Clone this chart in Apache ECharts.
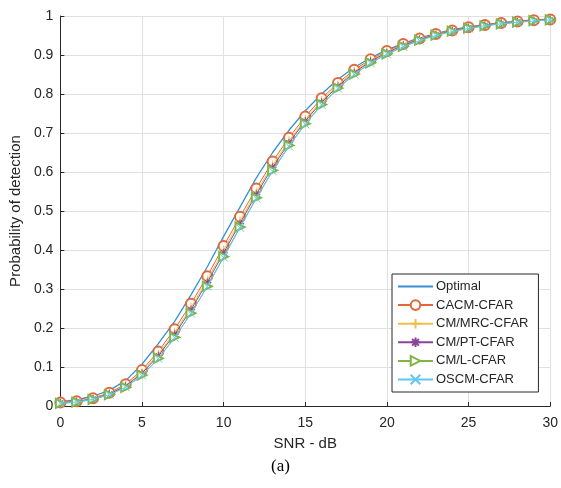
<!DOCTYPE html>
<html>
<head>
<meta charset="utf-8">
<script src="https://cdn.jsdelivr.net/npm/echarts@6/dist/echarts.min.js"></script>
<style>
html,body{margin:0;padding:0;background:#fff;}
#c{width:561px;height:488px;}
</style>
</head>
<body>
<div id="c"></div>
<script>
const snr = [0,1,2,3,4,5,6,7,8,9,10,11,12,13,14,15,16,17,18,19,20,21,22,23,24,25,26,27,28,29,30];
const yTicks = [0,0.1,0.2,0.3,0.4,0.5,0.6,0.7,0.8,0.9,1];
const seriesNames = ['Optimal','CACM-CFAR','CM/MRC-CFAR','CM/PT-CFAR','CM/L-CFAR','OSCM-CFAR'];
const optimal = [0.011,0.016,0.025,0.040,0.065,0.107,0.160,0.217,0.285,0.357,0.435,0.510,0.585,0.650,0.707,0.757,0.800,0.838,0.868,0.893,0.913,0.930,0.944,0.955,0.965,0.972,0.978,0.983,0.987,0.990,0.992];
const cacm = [0.009,0.012,0.020,0.034,0.056,0.092,0.140,0.197,0.262,0.333,0.410,0.485,0.558,0.627,0.688,0.742,0.789,0.828,0.862,0.889,0.910,0.928,0.942,0.954,0.963,0.971,0.977,0.982,0.986,0.989,0.991];
const cmMrc = [0.008,0.011,0.019,0.032,0.053,0.087,0.133,0.189,0.253,0.323,0.400,0.475,0.549,0.618,0.680,0.735,0.783,0.823,0.858,0.886,0.908,0.926,0.941,0.953,0.962,0.970,0.976,0.981,0.985,0.988,0.991];
const cmPt = [0.008,0.011,0.018,0.031,0.051,0.084,0.129,0.184,0.247,0.317,0.393,0.468,0.543,0.612,0.675,0.731,0.779,0.820,0.855,0.884,0.906,0.925,0.940,0.952,0.962,0.970,0.976,0.981,0.985,0.988,0.991];
const cmL = [0.007,0.010,0.017,0.029,0.048,0.079,0.122,0.176,0.238,0.307,0.383,0.459,0.534,0.604,0.668,0.724,0.773,0.815,0.851,0.880,0.903,0.922,0.938,0.951,0.961,0.969,0.975,0.980,0.984,0.988,0.990];
const oscm = [0.007,0.010,0.017,0.029,0.048,0.078,0.121,0.175,0.237,0.306,0.381,0.457,0.532,0.602,0.666,0.722,0.772,0.814,0.850,0.879,0.902,0.921,0.937,0.950,0.960,0.968,0.975,0.980,0.984,0.987,0.990];

const colors = ['#3a8fd3','#e0683a','#f0bf4a','#8a459a','#80b545','#63c6ef'];
const symbols = ['none','emptyCircle','path://M5,0L5,10M0,5L10,5','path://M5,0L5,10M0,5L10,5M1.5,1.5L8.5,8.5M8.5,1.5L1.5,8.5','emptyTriangle','path://M0,0L10,10M10,0L0,10'];
const rotations = [0,0,0,0,-90,0];
const sizes = [0,10,9,8,9,8];
const allData = [optimal,cacm,cmMrc,cmPt,cmL,oscm];

const chart = echarts.init(document.getElementById('c'), null, {renderer:'canvas'});
const font = 'Liberation Sans, Arial, sans-serif';
const series = allData.map((d,i)=>({
  name: seriesNames[i],
  type: 'line',
  data: d.map((v,j)=>[snr[j], v]),
  symbol: symbols[i],
  symbolRotate: rotations[i],
  showSymbol: i>0,
  symbolSize: sizes[i],
  z: 2+i,
  color: colors[i],
  lineStyle: {color: colors[i], width: i===0 ? 1.3 : 1, type: 'solid'},
  itemStyle: {color: colors[i], borderColor: colors[i], borderWidth: 1},
  emphasis: {disabled: true},
  animation: false
}));

const legendData = seriesNames.map((n,i)=> i===0 ? {name:n, itemStyle:{opacity:0}} : {name:n});

chart.setOption({
  animation: false,
  backgroundColor: '#fff',
  grid: {left: 58, right: 9, top: 16, bottom: 82, containLabel: false},
  xAxis: {
    type: 'value', min: 0, max: 30, interval: 5,
    name: 'SNR - dB', nameLocation: 'middle', nameGap: 30,
    nameTextStyle: {fontFamily: font, fontSize: 15, color: '#262626'},
    axisLine: {lineStyle: {color: '#262626', width: 1}},
    axisTick: {inside: true, length: 4, lineStyle: {color: '#262626'}},
    axisLabel: {fontFamily: font, fontSize: 14, color: '#262626', margin: 10},
    splitLine: {show: true, lineStyle: {color: '#e0e0e0', width: 1}}
  },
  yAxis: {
    type: 'value', min: 0, max: 1, interval: 0.1,
    name: 'Probability of detection', nameLocation: 'middle', nameGap: 35,
    nameTextStyle: {fontFamily: font, fontSize: 15, color: '#262626'},
    axisLine: {show: true, lineStyle: {color: '#262626', width: 1}},
    axisTick: {show: true, inside: true, length: 4, lineStyle: {color: '#262626'}},
    axisLabel: {fontFamily: font, fontSize: 14, color: '#262626', margin: 7,
      formatter: v => { const t = yTicks.find(x => Math.abs(x - v) < 1e-9); return t === undefined ? '' : String(Math.round(t*10)/10); }},
    splitLine: {show: true, lineStyle: {color: '#e0e0e0', width: 1}}
  },
  legend: {
    orient: 'vertical', left: 392, top: 274,
    padding: [6, 10, 6, 5],
    itemWidth: 35, itemHeight: 12, itemGap: 5.6,
    backgroundColor: '#fff', borderColor: '#262626', borderWidth: 1,
    textStyle: {fontFamily: font, fontSize: 13, color: '#262626', padding: [0,0,0,-2]},
    data: legendData
  },
  graphic: [{
    type: 'text', left: 'center', top: 458,
    style: {text: '(a)', fontFamily: 'Liberation Serif, Times New Roman, serif', fontSize: 17, fill: '#000'}
  }],
  series: series
});
</script>
</body>
</html>
